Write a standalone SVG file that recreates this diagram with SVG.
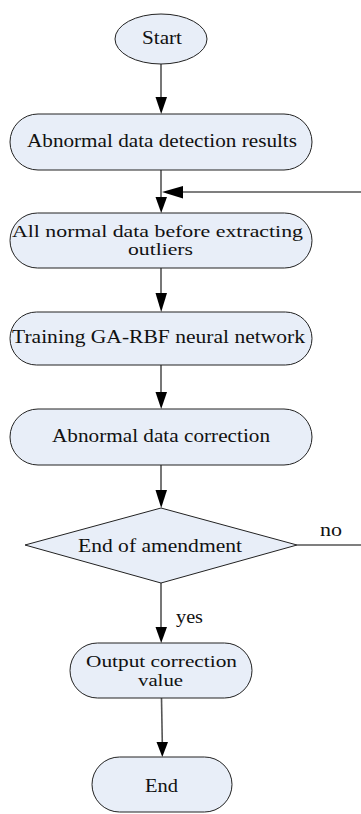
<svg xmlns="http://www.w3.org/2000/svg" width="361" height="814" viewBox="0 0 361 814">
<style>
.n{fill:#E8EEF8;stroke:#222;stroke-width:1}
.t{font-family:"Liberation Serif","Times New Roman",serif;font-size:18px;fill:#111}
.s{font-size:16.5px}
.c{stroke:#555;stroke-width:1.6;fill:none}
.h{fill:#000;stroke:none}
</style>
<rect width="361" height="814" fill="#fff"/>
<g id="connectors">
<line class="c" x1="161" y1="64" x2="161" y2="98"/>
<polygon class="h" points="155.5,97 167,97 161.2,114"/>
<line class="c" x1="161" y1="170" x2="161" y2="198"/>
<polygon class="h" points="155.5,197 167,197 161.2,213"/>
<line class="c" x1="361" y1="192" x2="182" y2="192"/>
<polygon class="h" points="183,186 183,198.5 162,192"/>
<line class="c" x1="161" y1="268" x2="161" y2="294"/>
<polygon class="h" points="155.5,293 167,293 161.2,312"/>
<line class="c" x1="161" y1="365" x2="161" y2="393"/>
<polygon class="h" points="155.5,392 167,392 161.2,409"/>
<line class="c" x1="161" y1="465" x2="161" y2="491"/>
<polygon class="h" points="155.5,490 167,490 161.2,508"/>
<line class="c" x1="297" y1="545" x2="361" y2="545"/>
<line class="c" x1="161" y1="583" x2="161" y2="628"/>
<polygon class="h" points="155.5,627 167,627 161.2,643"/>
<line class="c" x1="161.5" y1="698" x2="162.3" y2="743"/>
<polygon class="h" points="156.5,742 168,742 162.3,757"/>
<text class="t" x="320" y="536" textLength="22" lengthAdjust="spacingAndGlyphs">no</text>
<text class="t" x="176" y="623" textLength="27" lengthAdjust="spacingAndGlyphs">yes</text>
</g>
<g id="start">
<ellipse class="n" cx="161" cy="39" rx="46" ry="25"/>
<text class="t" x="142" y="44" textLength="40" lengthAdjust="spacingAndGlyphs">Start</text>
</g>
<g id="detection">
<rect class="n" x="10" y="114" width="302" height="56" rx="28" ry="28"/>
<text class="t" x="27" y="147" textLength="270" lengthAdjust="spacingAndGlyphs">Abnormal data detection results</text>
</g>
<g id="normal-data">
<rect class="n" x="10" y="213" width="302" height="55" rx="27.5" ry="27.5"/>
<text class="t s" x="12" y="236.5" textLength="291" lengthAdjust="spacingAndGlyphs">All normal data before extracting</text>
<text class="t s" x="128" y="255" textLength="65" lengthAdjust="spacingAndGlyphs">outliers</text>
</g>
<g id="training">
<rect class="n" x="10" y="312" width="302" height="53" rx="26.5" ry="26.5"/>
<text class="t" x="12" y="343" textLength="293" lengthAdjust="spacingAndGlyphs">Training GA-RBF neural network</text>
</g>
<g id="correction">
<rect class="n" x="10" y="409" width="302" height="56" rx="28" ry="28"/>
<text class="t" x="52" y="442" textLength="218" lengthAdjust="spacingAndGlyphs">Abnormal data correction</text>
</g>
<g id="decision">
<polygon class="n" points="161,508 297,545 161,583 25,545"/>
<text class="t" x="78" y="552" textLength="164" lengthAdjust="spacingAndGlyphs">End of amendment</text>
</g>
<g id="output">
<rect class="n" x="70" y="643" width="182" height="55" rx="27.5" ry="27.5"/>
<text class="t s" x="86" y="666.5" textLength="151" lengthAdjust="spacingAndGlyphs">Output correction</text>
<text class="t s" x="138" y="685.5" textLength="45" lengthAdjust="spacingAndGlyphs">value</text>
</g>
<g id="end">
<rect class="n" x="92" y="757" width="140" height="55" rx="27.5" ry="27.5"/>
<text class="t" x="145" y="792" textLength="33" lengthAdjust="spacingAndGlyphs">End</text>
</g>
</svg>
